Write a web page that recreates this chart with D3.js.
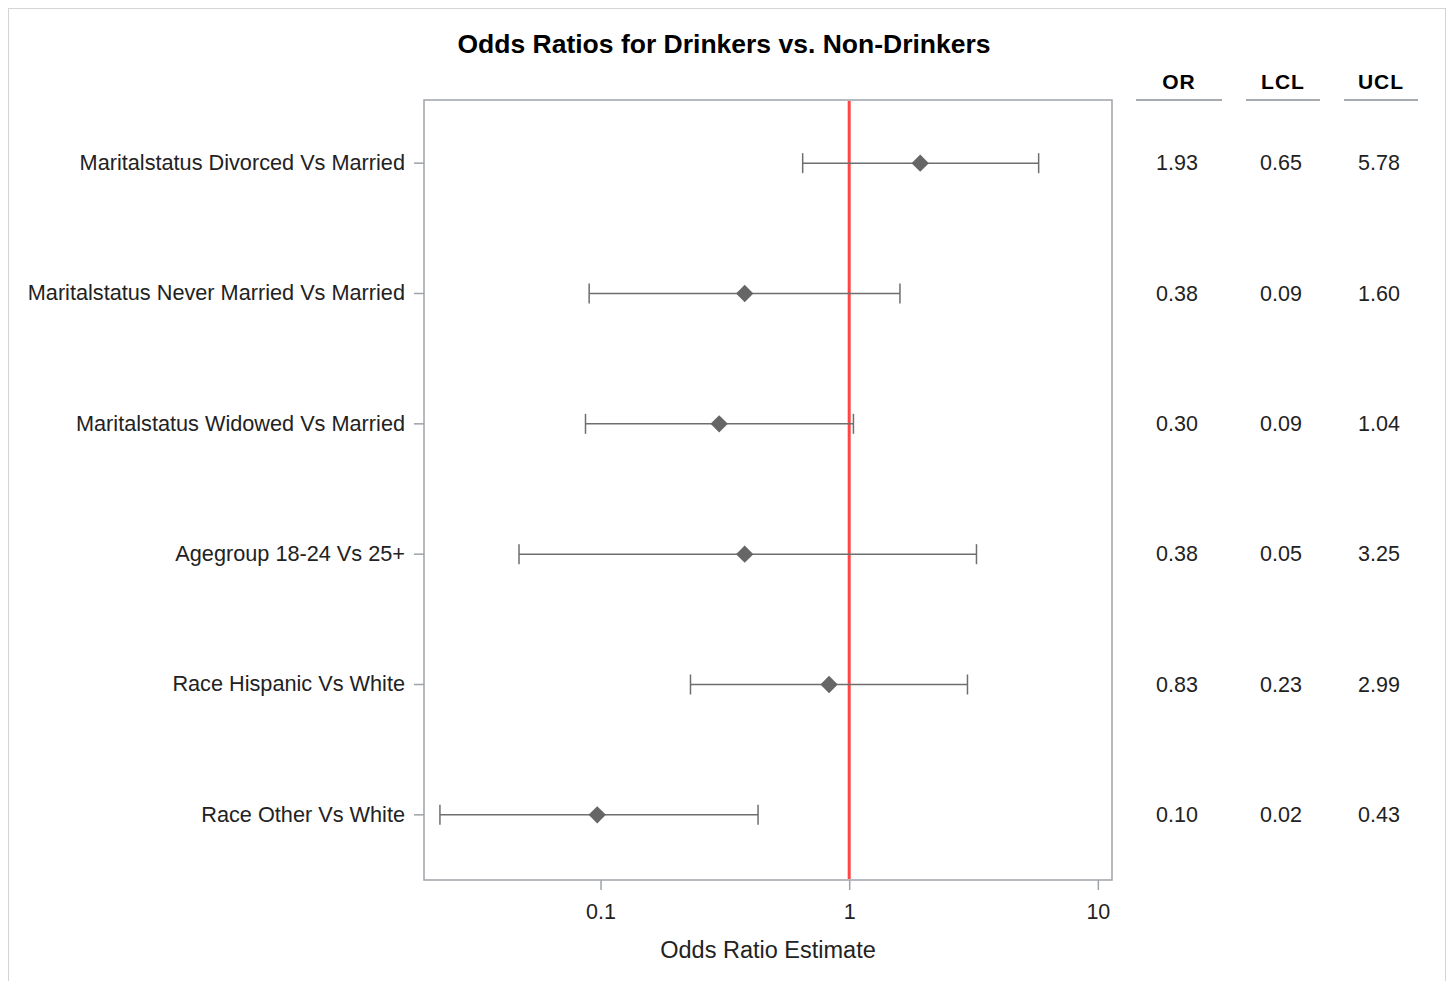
<!DOCTYPE html>
<html>
<head>
<meta charset="utf-8">
<script src="https://cdn.jsdelivr.net/npm/d3@7"></script>
<style>
  html, body { margin: 0; padding: 0; background: #fff; }
  text { font-family: "Liberation Sans", Arial, sans-serif; }
</style>
</head>
<body>
<svg id="chart" width="1448" height="981"></svg>
<script>
// ---- data ----
const categories = [
  "Maritalstatus Divorced Vs Married",
  "Maritalstatus Never Married Vs Married",
  "Maritalstatus Widowed Vs Married",
  "Agegroup 18-24 Vs 25+",
  "Race Hispanic Vs White",
  "Race Other Vs White"
];
const orValues  = [1.93, 0.38, 0.30, 0.38, 0.83, 0.097];
const lclValues = [0.65, 0.09, 0.087, 0.047, 0.23, 0.0226];
const uclValues = [5.78, 1.60, 1.04, 3.25, 2.99, 0.43];
const xTicks = [0.1, 1, 10];
const columnHeaders = ["OR", "LCL", "UCL"];
const title = "Odds Ratios for Drinkers vs. Non-Drinkers";
const xLabel = "Odds Ratio Estimate";
const refValue = 1;

// ---- layout ----
const svg = d3.select("#chart");
const plot = { left: 424, right: 1112, top: 100, bottom: 880 };

const x = d3.scaleLog()
  .domain([0.0195, 11.4])
  .range([plot.left, plot.right]);
const y = d3.scaleBand()
  .domain(categories)
  .range([plot.top - 2, plot.bottom])
  .padding(0);

const rows = categories.map((c, i) => ({
  cat: c, or: orValues[i], lcl: lclValues[i], ucl: uclValues[i]
}));

// outer border
svg.append("rect")
  .attr("x", 8.5).attr("y", 8.5)
  .attr("width", 1437).attr("height", 990)
  .attr("fill", "none").attr("stroke", "#d4d4d4").attr("stroke-width", 1);

// title
svg.append("text")
  .attr("x", 724).attr("y", 53)
  .attr("text-anchor", "middle")
  .attr("font-size", 26.5).attr("font-weight", "bold").attr("fill", "#000")
  .text(title);

// plot frame
svg.append("rect")
  .attr("x", plot.left).attr("y", plot.top)
  .attr("width", plot.right - plot.left).attr("height", plot.bottom - plot.top)
  .attr("fill", "none").attr("stroke", "#9ea3a8").attr("stroke-width", 1.5);

// x axis
const xAxis = d3.axisBottom(x).tickValues(xTicks).tickFormat(d3.format("~g")).tickSize(10).tickPadding(14);
const gx = svg.append("g").attr("transform", `translate(0,${plot.bottom})`).call(xAxis);
gx.select(".domain").remove();
gx.selectAll(".tick line").attr("stroke", "#9ea3a8").attr("stroke-width", 1.5);
gx.selectAll(".tick text").attr("font-size", 21.5).attr("fill", "#222")
  .attr("font-family", "'Liberation Sans', Arial, sans-serif");

svg.append("text")
  .attr("x", 768).attr("y", 958)
  .attr("text-anchor", "middle").attr("font-size", 23.5).attr("fill", "#222")
  .text(xLabel);

// y axis
const yAxis = d3.axisLeft(y).tickSize(10).tickPadding(9);
const gy = svg.append("g").attr("transform", `translate(${plot.left},0)`).call(yAxis);
gy.select(".domain").remove();
gy.selectAll(".tick line").attr("stroke", "#9ea3a8").attr("stroke-width", 1.5);
gy.selectAll(".tick text").attr("font-size", 21.7).attr("fill", "#222")
  .attr("font-family", "'Liberation Sans', Arial, sans-serif");

// reference line
svg.append("line")
  .attr("x1", x(refValue)).attr("x2", x(refValue))
  .attr("y1", plot.top + 1).attr("y2", plot.bottom - 1)
  .attr("stroke", "#ff4545").attr("stroke-width", 3);

// error bars
const yc = d => y(d.cat) + y.bandwidth() / 2;
const bars = svg.append("g").selectAll("g").data(rows).join("g");
bars.append("line")
  .attr("x1", d => x(d.lcl)).attr("x2", d => x(d.ucl))
  .attr("y1", yc).attr("y2", yc)
  .attr("stroke", "#6e6e6e").attr("stroke-width", 1.5);
bars.append("line")
  .attr("x1", d => x(d.lcl)).attr("x2", d => x(d.lcl))
  .attr("y1", d => yc(d) - 10).attr("y2", d => yc(d) + 10)
  .attr("stroke", "#6e6e6e").attr("stroke-width", 1.5);
bars.append("line")
  .attr("x1", d => x(d.ucl)).attr("x2", d => x(d.ucl))
  .attr("y1", d => yc(d) - 10).attr("y2", d => yc(d) + 10)
  .attr("stroke", "#6e6e6e").attr("stroke-width", 1.5);
bars.append("path")
  .attr("d", d3.symbol(d3.symbolSquare, 150)())
  .attr("transform", d => `translate(${x(d.or)},${yc(d)}) rotate(45)`)
  .attr("fill", "#666666");

// table columns
const colCenters = [1179, 1283, 1381];
const colHalfWidths = [43, 37, 37];
const fmt = d3.format(".2f");
const colData = [orValues, lclValues, uclValues];

columnHeaders.forEach((h, j) => {
  svg.append("text")
    .attr("x", colCenters[j]).attr("y", 89)
    .attr("text-anchor", "middle").attr("font-size", 21).attr("font-weight", "bold")
    .attr("letter-spacing", 1).attr("fill", "#000")
    .text(h);
  svg.append("line")
    .attr("x1", colCenters[j] - colHalfWidths[j]).attr("x2", colCenters[j] + colHalfWidths[j])
    .attr("y1", 100).attr("y2", 100)
    .attr("stroke", "#a6abb0").attr("stroke-width", 2);
  svg.append("g").selectAll("text").data(categories).join("text")
    .attr("x", colCenters[j] - 2)
    .attr("y", (c) => y(c) + y.bandwidth() / 2 + 7)
    .attr("text-anchor", "middle").attr("font-size", 21.5).attr("fill", "#222")
    .text((c, i) => fmt(colData[j][i]));
});
</script>
</body>
</html>
